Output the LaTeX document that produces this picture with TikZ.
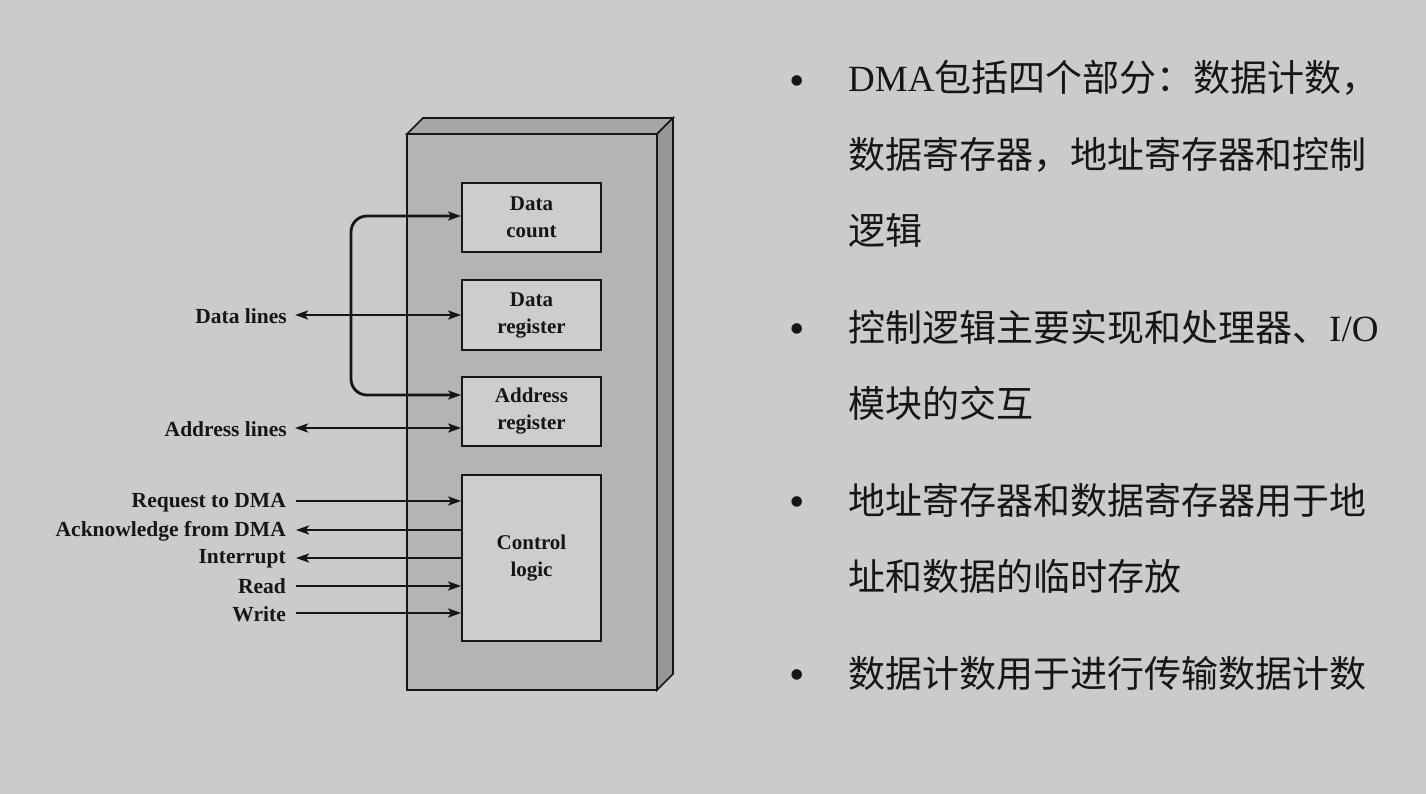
\documentclass[tikz,border=0pt]{standalone}
\usepackage{fontspec}
\setmainfont{Liberation Serif}
\newfontfamily\cjk{Noto Sans CJK SC}
\newfontfamily\lat{Liberation Serif}
\usetikzlibrary{arrows.meta}
\definecolor{bg}{HTML}{CBCBCB}
\definecolor{front}{HTML}{B4B4B4}
\definecolor{topf}{HTML}{A6A6A6}
\definecolor{sidef}{HTML}{969696}
\definecolor{inner}{HTML}{CDCDCD}
\definecolor{ink}{HTML}{161616}
\begin{document}
\begin{tikzpicture}[x=1pt,y=-1pt,
  reg/.style={draw=ink,line width=1.8pt,fill=inner,minimum width=139pt,align=center,
    font=\fontsize{21}{27}\selectfont\bfseries,text=ink,inner sep=0pt},
  tip/.tip={Stealth[length=13pt,width=9pt,inset=3pt]},
  sig/.style={line width=2.8pt,draw=ink,-tip},
  bsig/.style={line width=2.8pt,draw=ink,tip-tip},
  lbl/.style={anchor=east,font=\fontsize{21.5}{24}\selectfont\bfseries,text=ink,inner sep=0pt},
  txt/.style={anchor=base west,font=\fontsize{37}{40}\selectfont,text=ink,inner sep=0pt},
  bul/.style={anchor=center,font=\fontsize{44}{44}\selectfont,text=ink,inner sep=0pt}]
\useasboundingbox (0,0) rectangle (1426,794);
\fill[bg] (0,0) rectangle (1426,794);
% 3D box
\filldraw[fill=topf,draw=ink,line width=1.6pt] (407,134) -- (423,118) -- (673,118) -- (657,134) -- cycle;
\filldraw[fill=sidef,draw=ink,line width=1.6pt] (657,134) -- (673,118) -- (673,674) -- (657,690) -- cycle;
\filldraw[fill=front,draw=ink,line width=1.6pt] (407,134) rectangle (657,690);
% registers
\node[reg,minimum height=69pt] (dc) at (531.5,217.5) {Data\\count};
\node[reg,minimum height=70pt] (dr) at (531.5,315) {Data\\register};
\node[reg,minimum height=69pt] (ar) at (531.5,411.5) {Address\\register};
\node[reg,minimum height=166pt] (cl) at (531.5,558) {Control\\logic};
% labels
\node[lbl] (ldl) at (287,316) {Data lines};
\node[lbl] (lal) at (287,429) {Address lines};
\node[lbl] (lrq) at (286,503) {Request to DMA};
\node[lbl] (lak) at (286,531) {Acknowledge from DMA};
\node[lbl] (lin) at (286,559) {Interrupt};
\node[lbl] (lrd) at (286,586) {Read};
\node[lbl] (lwr) at (286,614) {Write};
% connector anchors
\coordinate (dcA) at (dc.west |- 0,216);
\coordinate (arA) at (ar.west |- 0,395);
\coordinate (arB) at (ar.west |- 0,428);
\coordinate (dlE) at (295,315);
\coordinate (alE) at (295,428);
% connectors
\draw[bsig] (dlE) -- (dr.west);
\draw[bsig] (alE) -- (arB);
\draw[bsig,rounded corners=16pt] (dcA) -| (351,300) |- (arA);
\draw[sig] ([xshift=10pt]lrq.east |- 0,501) -- (cl.west |- 0,501);
\draw[sig] (cl.west |- 0,530) -- ([xshift=10pt]lak.east |- 0,530);
\draw[sig] (cl.west |- 0,558) -- ([xshift=10pt]lin.east |- 0,558);
\draw[sig] ([xshift=10pt]lrd.east |- 0,586) -- (cl.west |- 0,586);
\draw[sig] ([xshift=10pt]lwr.east |- 0,613) -- (cl.west |- 0,613);
% right text
\node[bul] (b1) at (797,86) {•};
\node[bul] (b2) at (797,334) {•};
\node[bul] (b3) at (797,507) {•};
\node[bul] (b4) at (797,680) {•};
\node[txt] (t1) at (848,92) {{\lat DMA}{\cjk 包括四个部分：数据计数，}};
\node[txt] (t2) at (848,169) {\cjk 数据寄存器，地址寄存器和控制};
\node[txt] (t3) at (848,244) {\cjk 逻辑};
\node[txt] (t4) at (848,341) {{\cjk 控制逻辑主要实现和处理器、}{\lat I/O}};
\node[txt] (t5) at (848,417) {\cjk 模块的交互};
\node[txt] (t6) at (848,514) {\cjk 地址寄存器和数据寄存器用于地};
\node[txt] (t7) at (848,590) {\cjk 址和数据的临时存放};
\node[txt] (t8) at (848,687) {\cjk 数据计数用于进行传输数据计数};
\end{tikzpicture}
\end{document}
